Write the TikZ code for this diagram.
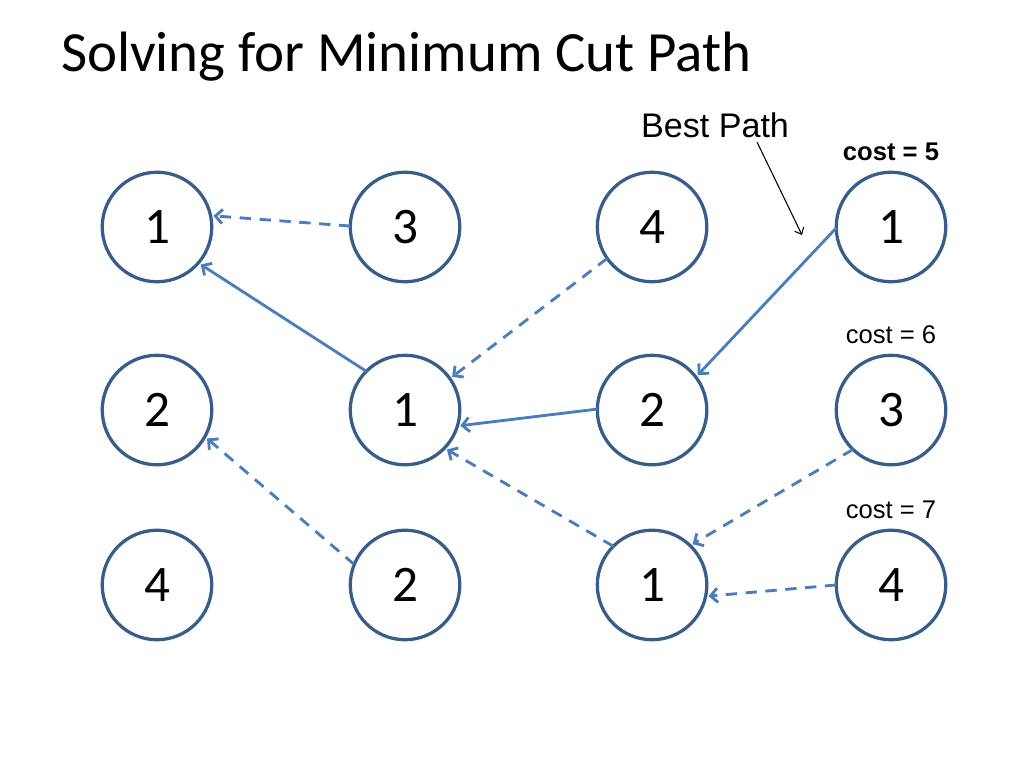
\documentclass[tikz,border=0pt]{standalone}
\usepackage{fontspec}
\setmainfont{Carlito}
\newfontfamily\arialfont{Liberation Sans}
\usetikzlibrary{positioning, arrows.meta}

\definecolor{ringblue}{HTML}{385D8A}
\definecolor{lineblue}{HTML}{4A7EBB}

\begin{document}
\begin{tikzpicture}[x=0.703125pt, y=-0.703125pt, on grid,
		cell/.style={circle, draw=ringblue, line width=2.3pt, minimum size=77pt, inner sep=0pt, outer sep=0pt, font=\fontsize{36}{40}\selectfont},
		cut/.style={draw=lineblue, line width=2pt, shorten >=2pt, -{Straight Barb[length=5pt, width=10pt]}},
		gap/.style={cut, dash pattern=on 8pt off 6pt},
		costlbl/.style={font=\arialfont\fontsize{18}{21}\selectfont}]
	\useasboundingbox (0,0) rectangle (1024,768);

	\node[anchor=base west, font=\fontsize{40}{48}\selectfont] (title) at (56,72) {Solving for Minimum Cut Path};

	% first row
	\node[cell] (a1) at (157,227) {1};
	\node[cell, right=174.4pt of a1] (b1) {3};
	\node[cell, right=173.7pt of b1] (c1) {4};
	\node[cell, right=168pt of c1] (d1) {1};

	% second row
	\node[cell, below=128.7pt of a1] (a2) {2};
	\node[cell, below=128.7pt of b1] (b2) {1};
	\node[cell, below=128.7pt of c1] (c2) {2};
	\node[cell, below=128.7pt of d1] (d2) {3};

	% third row
	\node[cell, below=123pt of a2] (a3) {4};
	\node[cell, below=123pt of b2] (b3) {2};
	\node[cell, below=123pt of c2] (c3) {1};
	\node[cell, below=123pt of d2] (d3) {4};

	\node[costlbl, font=\arialfont\bfseries\fontsize{18}{21}\selectfont, above=52.7pt of d1] (cost5) {cost = 5};
	\node[costlbl, above=52.7pt of d2] (cost6) {cost = 6};
	\node[costlbl, above=52.7pt of d3] (cost7) {cost = 7};

	\node[font=\arialfont\fontsize{24}{28}\selectfont] (best) at (715,125) {Best Path};
	\coordinate (bptail) at (757,142);
	\coordinate (bptip) at (802,235);
	\draw[line width=0.75pt, -{Straight Barb[length=4pt, width=7pt]}] (bptail) -- (bptip);

	\draw[gap] (b1.179) -- (a1.12);
	\draw[cut] (b2.135) -- (a1.-41);
	\draw[gap] (c1.215) -- (b2.35);
	\draw[cut] (d1.181) -- (c2.37);
	\draw[cut] (c2.179) -- (b2.-17);
	\draw[gap] (c3.135) -- (b2.-44);
	\draw[gap] (b3.158) -- (a2.-29);
	\draw[gap] (d2.226) -- (c3.46);
	\draw[gap] (d3.180) -- (c3.-12);
\end{tikzpicture}
\end{document}
